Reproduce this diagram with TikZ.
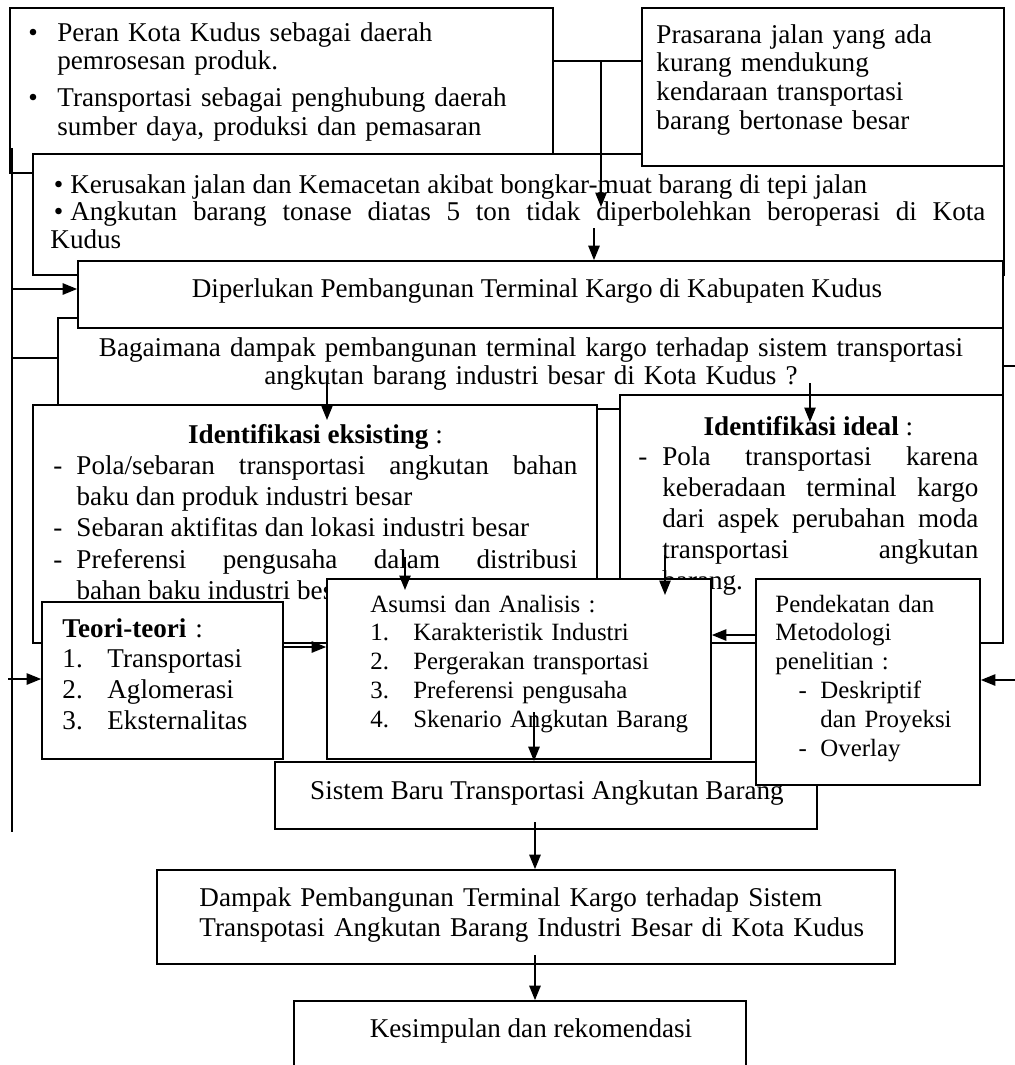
\documentclass[tikz,border=0pt]{standalone}
\usepackage{fontspec}
\setmainfont{Liberation Serif}
\usetikzlibrary{arrows.meta,fit}
% bullet or dash item with a hanging indent
\newcommand\hangitem[2]{\par\noindent\hangindent=#1\relax\hangafter=1\relax\makebox[#1][l]{#2}\ignorespaces}
\begin{document}
\begin{tikzpicture}[x=0.4425pt, y=-0.4425pt,
  box/.style={draw, fill=white, line width=0.75pt, inner sep=0pt},
  conn/.style={line width=0.75pt},
  arr/.style={line width=0.75pt, -{Triangle[length=6.4pt,width=5pt]}},
  txt/.style={inner sep=0pt, anchor=base west},
  ctxt/.style={inner sep=0pt, anchor=base},
  f12/.style={font=\fontsize{12pt}{13.85pt}\selectfont},
  f11/.style={font=\fontsize{11pt}{12.8pt}\selectfont}]
\useasboundingbox (0,0) rectangle (1015,1065);
\clip (0,0) rectangle (1015,1065);
\fill[white] (0,0) rectangle (1015,1065);

% ---- background issues
\node[box, fit={(10,8) (553,173)}] (A) {};
\node[txt, text width=230pt, align=left, font=\fontsize{12pt}{12.4pt}\selectfont] (Atext) at (28,41)
  {\makebox[12.8pt][l]{\textbullet}Peran Kota Kudus sebagai daerah\\
   \hspace*{12.8pt}pemrosesan produk.\\[4.4pt]
   \makebox[12.8pt][l]{\textbullet}Transportasi sebagai penghubung daerah\\
   \hspace*{12.8pt}sumber daya, produksi dan pemasaran};

\node[box, fit={(33,154) (1004,275)}] (B) {};
\node[txt, text width=413.7pt, align=justify, font=\fontsize{12pt}{12.2pt}\selectfont] (Btext) at (50,193)
  {\makebox[8.8pt][l]{\hspace{1.5pt}\textbullet}Kerusakan jalan dan Kemacetan akibat bongkar-muat barang di tepi jalan\par
   \makebox[8.8pt][l]{\hspace{1.5pt}\textbullet}Angkutan barang tonase diatas 5 ton tidak diperbolehkan beroperasi di Kota\linebreak Kudus\par};

\node[box, fit={(642,8) (1004,166)}] (P) {};
\node[txt, text width=150pt, align=left, font=\fontsize{12pt}{12.7pt}\selectfont] (Ptext) at (656,43)
  {Prasarana jalan yang ada\\ kurang mendukung\\ kendaraan transportasi\\ barang bertonase besar};

% ---- research question and need
\node[box, fit={(58,318) (1003,409)}] (Q) {};
\node[ctxt, text width=420pt, align=center, font=\fontsize{12pt}{12.4pt}\selectfont] (Qtext) at (531,356)
  {Bagaimana dampak pembangunan terminal kargo terhadap sistem transportasi\\
   angkutan barang industri besar di Kota Kudus ?};

\node[box, fit={(78,261) (1003,328)}] (C) {};
\node[ctxt, f12] (Ctext) at (537,297) {Diperlukan Pembangunan Terminal Kargo di Kabupaten Kudus};

% ---- identification
\node[box, fit={(33,405) (597,643)}] (D) {};
\node[txt, text width=231.9pt, align=justify, f12] (Dtext) at (53,443)
  {\centerline{\textbf{Identifikasi eksisting} :}\par
   \hangitem{10.2pt}{-}Pola/sebaran transportasi angkutan bahan\linebreak baku dan produk industri besar\par
   \hangitem{10.2pt}{-}Sebaran aktifitas dan lokasi industri besar\par
   \hangitem{10.2pt}{-}Preferensi pengusaha dalam distribusi\linebreak bahan baku industri besar\par};

\node[box, fit={(620,395) (1003,643)}] (E) {};
\node[txt, text width=150.4pt, align=justify, font=\fontsize{12pt}{13.7pt}\selectfont] (Etext) at (638,435)
  {\centerline{\textbf{Identifikasi ideal} :}\par
   \hangitem{10.6pt}{-}Pola transportasi karena\linebreak keberadaan terminal kargo\linebreak
   dari aspek perubahan moda\linebreak transportasi angkutan\linebreak barang.\par};

% ---- theory, analysis, method
\node[box, fit={(42,602) (283,759)}] (T) {};
\node[txt, text width=100pt, align=left, font=\fontsize{12pt}{13.7pt}\selectfont] (Ttext) at (62,637)
  {\textbf{Teori-teori} :\\
   \makebox[19.9pt][l]{1.}Transportasi\\
   \makebox[19.9pt][l]{2.}Aglomerasi\\
   \makebox[19.9pt][l]{3.}Eksternalitas};

\node[box, fit={(327,579) (711,759)}] (S) {};
\node[txt, text width=150pt, align=left, f11] (Stext) at (370,612)
  {Asumsi dan Analisis :\\
   \makebox[19pt][l]{1.}Karakteristik Industri\\
   \makebox[19pt][l]{2.}Pergerakan transportasi\\
   \makebox[19pt][l]{3.}Preferensi pengusaha\\
   \makebox[19pt][l]{4.}Skenario Angkutan Barang};

\node[box, fit={(275,762) (817,829)}] (N) {};
\node[ctxt, f12] (Ntext) at (547,799) {Sistem Baru Transportasi Angkutan Barang};

\node[box, fit={(756,579) (980,785)}] (M) {};
\node[txt, text width=90pt, align=left, f11] (Mtext) at (775,612)
  {Pendekatan dan\\ Metodologi\\ penelitian :\\
   \hspace*{10.2pt}\makebox[9.7pt][l]{-}Deskriptif\\
   \hspace*{19.9pt}dan Proyeksi\\
   \hspace*{10.2pt}\makebox[9.7pt][l]{-}Overlay};

% ---- results
\node[box, fit={(157,870) (895,964)}] (Dm) {};
\node[txt, text width=330pt, align=left, font=\fontsize{12pt}{13.7pt}\selectfont] (Dmtext) at (199,906)
  {Dampak Pembangunan Terminal Kargo terhadap Sistem\\
   Transpotasi Angkutan Barang Industri Besar di Kota Kudus};

\node[box, fit={(294,1001) (746,1080)}] (K) {};
\node[ctxt, f12] (Ktext) at (531,1037) {Kesimpulan dan rekomendasi};

% ---- connectors
\coordinate (apmid) at (601,61);
\draw[conn] (A.east |- apmid) -- (P.west |- apmid);
\coordinate (bIn) at (601,207);
\draw[arr] (apmid) -- (bIn);
\coordinate (bOut) at (594,228);
\draw[arr] (bOut) -- (bOut |- C.north);
\coordinate (qOutD) at (327,375); \coordinate (dIn) at (327,420);
\draw[arr] (qOutD) -- (dIn);
\coordinate (qOutE) at (810,383); \coordinate (eIn) at (810,422);
\draw[arr] (qOutE) -- (eIn);
\coordinate (dOut) at (405,557); \coordinate (sInD) at (405,590);
\draw[arr] (dOut) -- (sInD);
\coordinate (eOut) at (665,555); \coordinate (sInE) at (665,595);
\draw[arr] (eOut) -- (sInE);
\coordinate (tsy) at (0,647);
\draw[arr] (T.east |- tsy) -- (S.west |- tsy);
\coordinate (msy) at (0,635);
\draw[arr] (M.west |- msy) -- (S.east |- msy);
\coordinate (sOut) at (534,712);
\draw[arr] (sOut) -- (sOut |- N.north);
\coordinate (nOut) at (535,822);
\draw[arr] (nOut) -- (nOut |- Dm.north);
\coordinate (dmOut) at (535,955);
\draw[arr] (dmOut) -- (dmOut |- K.north);

% left feedback line
\coordinate (lTop) at (12,148); \coordinate (lBot) at (12,832);
\draw[conn] (lTop) -- (lBot);
\coordinate (lC) at (12,289);
\draw[arr] (lC) -- (C.west |- lC);
\coordinate (lT) at (8,679);
\draw[arr] (lT) -- (T.west |- lT);
\coordinate (lQ) at (12,358);
\draw[conn] (Q.west |- lQ) -- (lQ);

% right feedback line
\coordinate (rQ) at (1018,366); \coordinate (rM) at (1018,680);
\draw[conn] (Q.east |- rQ) -- (rQ) -- (rM);
\draw[arr] (rM) -- (M.east |- rM);
\end{tikzpicture}
\end{document}
